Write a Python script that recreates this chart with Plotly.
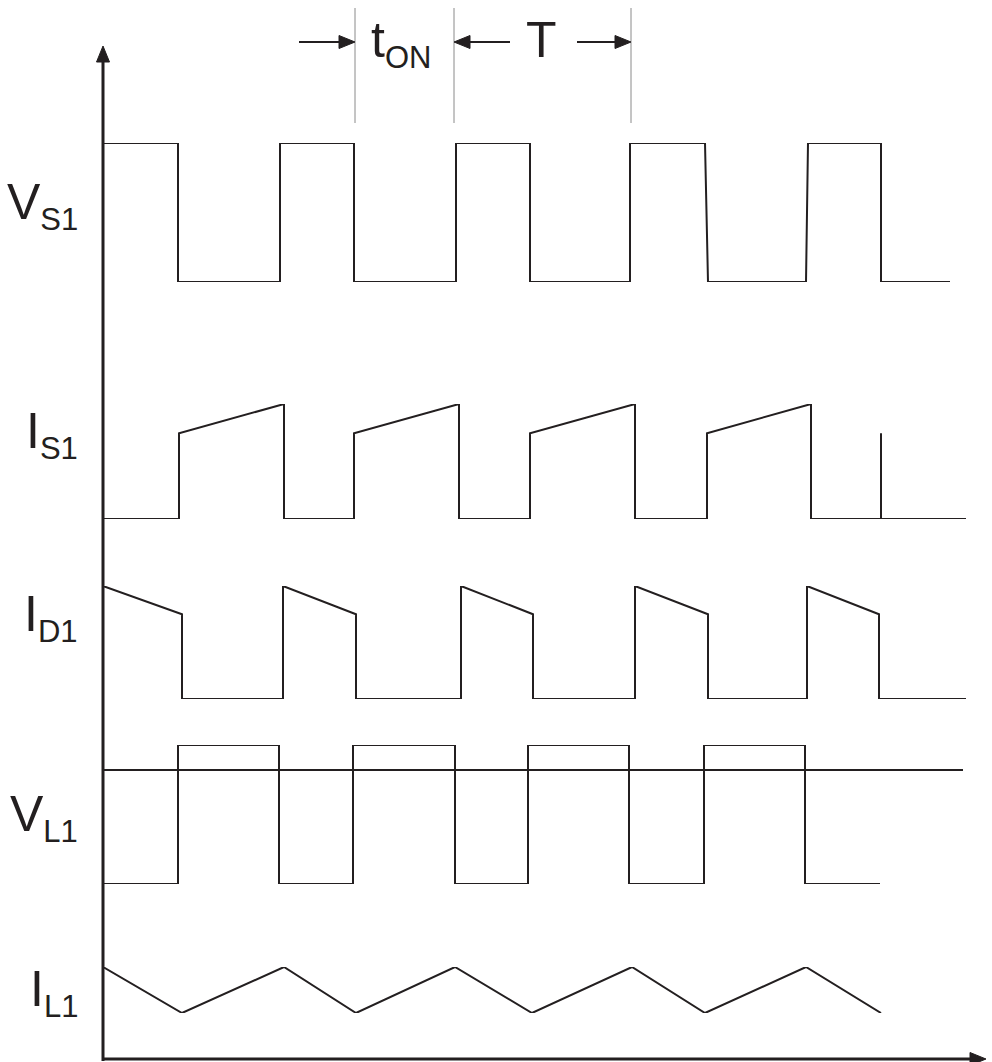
"""
Boost converter waveforms: VS1, IS1, ID1, VL1, IL1
"""
import plotly.graph_objects as go

W, H = 992, 1062
INK = "#231f20"
FONT = "Liberation Sans, Arial, sans-serif"

# time base, t = 0 at the vertical axis (one unit = one pixel across)
t_start, t_end = -103, 889

# switch voltage VS1 (0 = off, 1 = on)
vs1_t = [0, 75, 75, 177, 177, 251, 251, 353, 353, 427, 427, 527, 527, 602, 605, 703, 705, 778, 778, 847]
vs1_v = [1, 1, 0, 0, 1, 1, 0, 0, 1, 1, 0, 0, 1, 1, 0, 0, 1, 1, 0, 0]

# switch current IS1
is1_t = [0, 76, 76, 181, 181, 251, 251, 356, 356, 427, 427, 532, 532, 604, 604, 708, 708, 778, 778, 778, 863]
is1_v = [0, 0, 1, 1.34, 0, 0, 1, 1.34, 0, 0, 1, 1.34, 0, 0, 1, 1.34, 0, 0, 1, 0, 0]

# diode current ID1
id1_t = [0, 79, 79, 180, 180, 253, 253, 358, 358, 430, 430, 532, 532, 605, 605, 704, 704, 776, 776, 863]
id1_v = [1, 0.75, 0, 0, 1, 0.75, 0, 0, 1, 0.75, 0, 0, 1, 0.75, 0, 0, 1, 0.75, 0, 0]

# inductor voltage VL1 and its zero line
vl1_t = [0, 75, 75, 176, 176, 250, 250, 352, 352, 425, 425, 526, 526, 601, 601, 702, 702, 777]
vl1_v = [-1, -1, 0.22, 0.22, -1, -1, 0.22, 0.22, -1, -1, 0.22, 0.22, -1, -1, 0.22, 0.22, -1, -1]
vl1_zero_t = [0, 860]
vl1_zero_v = [0, 0]

# inductor current IL1
il1_t = [0, 79, 181, 253, 352, 429, 529, 602, 703, 778]
il1_v = [1.2, 0.8, 1.2, 0.8, 1.2, 0.8, 1.2, 0.8, 1.2, 0.8]

# timing marks above the plot
ton_start, ton_end, period_end = 252, 351, 528

labels = ["V", "I", "I", "V", "I"]
subs = ["S1", "S1", "D1", "L1", "L1"]


def band(top_px, bottom_px):
    # vertical domain from pixel rows
    return [1 - bottom_px / H, 1 - top_px / H]


def py(px):
    return 1 - px / H


def line(x0, x1, y0px, y1px, width=2, color=INK):
    fig.add_shape(type="line", xref="x", yref="paper",
                  x0=x0, x1=x1, y0=py(y0px), y1=py(y1px),
                  line=dict(color=color, width=width))


def head(tx, typx, direction, length=16, half=6.5):
    # filled triangle arrow head, tip at (tx, typx)
    if direction == "right":
        pts = [(tx, typx), (tx - length, typx - half), (tx - length, typx + half)]
    elif direction == "left":
        pts = [(tx, typx), (tx + length, typx - half), (tx + length, typx + half)]
    else:  # up
        pts = [(tx, typx), (tx - half, typx + length), (tx + half, typx + length)]
    path = "M " + " L ".join(f"{x},{py(y)}" for x, y in pts) + " Z"
    fig.add_shape(type="path", xref="x", yref="paper", path=path,
                  fillcolor=INK, line=dict(color=INK, width=1))


fig = go.Figure()

series = [
    (vs1_t, vs1_v, "y"),
    (is1_t, is1_v, "y2"),
    (id1_t, id1_v, "y3"),
    (vl1_zero_t, vl1_zero_v, "y4"),
    (vl1_t, vl1_v, "y4"),
    (il1_t, il1_v, "y5"),
]
for tx, vy, ax in series:
    fig.add_trace(go.Scatter(
        x=tx, y=vy, yaxis=ax, mode="lines",
        line=dict(color=INK, width=2),
        hoverinfo="skip", showlegend=False,
    ))

hidden = dict(visible=False, fixedrange=True)
fig.update_layout(
    width=W, height=H,
    margin=dict(l=0, r=0, t=0, b=0),
    plot_bgcolor="white",
    paper_bgcolor="white",
    xaxis=dict(range=[t_start, t_end], domain=[0, 1], **hidden),
    yaxis=dict(range=[0, 1], domain=band(143, 282), **hidden),
    yaxis2=dict(range=[0, 1.34], domain=band(404, 519), **hidden),
    yaxis3=dict(range=[0, 1], domain=band(586, 699), **hidden),
    yaxis4=dict(range=[-1, 0.22], domain=band(745, 884), **hidden),
    yaxis5=dict(range=[0.8, 1.2], domain=band(967, 1013), **hidden),
    showlegend=False,
)

# thin marker lines for t_ON and T
for tm in [ton_start, ton_end, period_end]:
    line(tm, tm, 123, 8, width=1, color="#8a8a8a")

# main axes with arrow heads
line(0, 0, 1061, 58, width=3)
line(-1, 872, 1059, 1059, width=3)
head(0, 46, "up")
head(883, 1059, "right")

# dimension arrows
line(ton_start - 56, ton_start - 12, 42, 42)
head(ton_start, 42, "right")
line(ton_end + 12, ton_end + 56, 42, 42)
head(ton_end, 42, "left")
line(period_end - 54, period_end - 12, 42, 42)
head(period_end, 42, "right")

big = dict(family=FONT, size=50, color=INK)
fig.add_annotation(x=298, y=py(44), xref="x", yref="paper",
                   text="t<sub><span style='font-size:31px'>ON</span></sub>",
                   showarrow=False, font=big, xanchor="center", yanchor="middle")
fig.add_annotation(x=438, y=py(40), xref="x", yref="paper", text="T",
                   showarrow=False, font=big, xanchor="center", yanchor="middle")

# signal names on the left
label_rows = [205, 434, 617, 817, 992]
for name, sub, row in zip(labels, subs, label_rows):
    fig.add_annotation(x=-23, y=py(row), xref="x", yref="paper",
                       text=f"{name}<sub><span style='font-size:31px'>{sub}</span></sub>",
                       showarrow=False, font=big, xanchor="right", yanchor="middle")

fig.write_html("out.html", config={"displayModeBar": False},
               post_script="document.body.style.margin='0';")
